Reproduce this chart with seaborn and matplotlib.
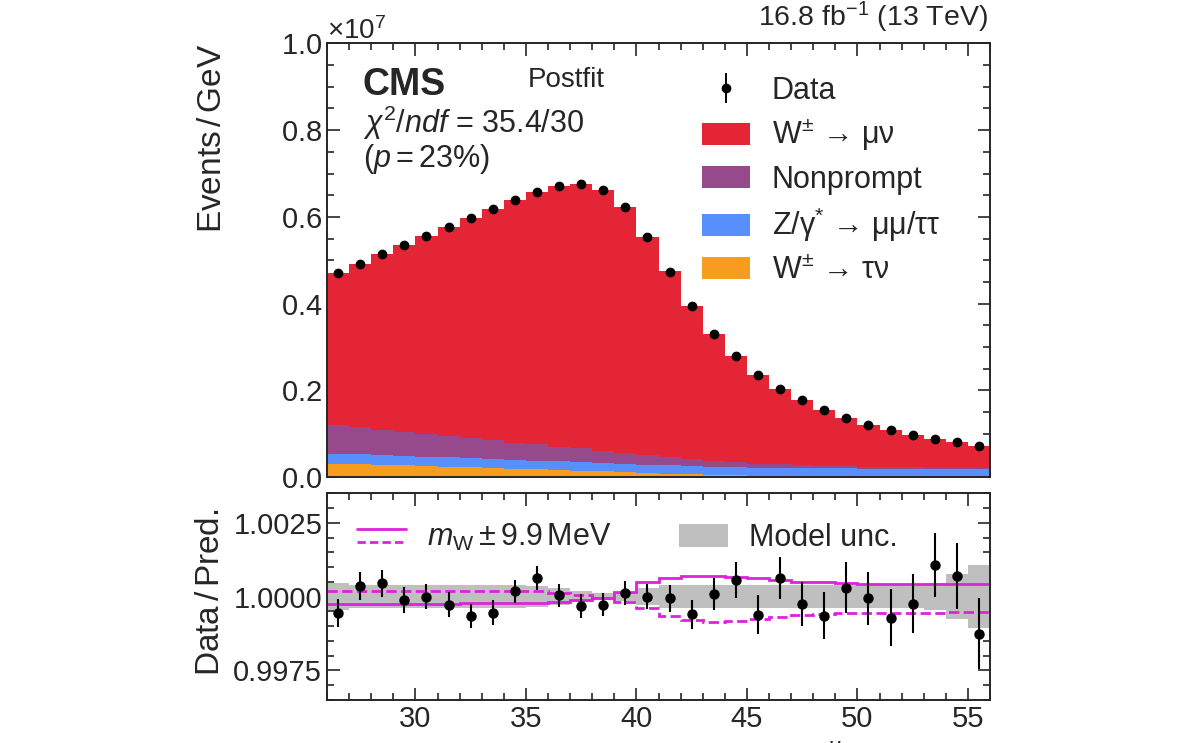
import numpy as np
import pandas as pd
import matplotlib
matplotlib.use("Agg")
import matplotlib.pyplot as plt
import seaborn as sns
from matplotlib.lines import Line2D
from matplotlib.patches import Patch
from matplotlib.legend_handler import HandlerBase
from matplotlib.ticker import MultipleLocator, ScalarFormatter, FormatStrFormatter

# muon pT binning (GeV)
bin_edges = list(range(26, 57))
bin_centers = np.array(bin_edges[:-1]) + 0.5

# observed events per GeV, in units of 1e7
data_vals = [0.470, 0.492, 0.514, 0.534, 0.556, 0.577, 0.597, 0.618, 0.639, 0.658,
             0.672, 0.676, 0.662, 0.623, 0.553, 0.474, 0.394, 0.331, 0.279, 0.235,
             0.204, 0.177, 0.154, 0.136, 0.120, 0.109, 0.097, 0.087, 0.080, 0.072]

# background contributions (units of 1e7)
wtaunu_vals = [0.031, 0.030, 0.028, 0.027, 0.025, 0.024, 0.022, 0.021, 0.019, 0.018,
               0.016, 0.015, 0.013, 0.011, 0.009, 0.008, 0.006, 0.005, 0.004, 0.003,
               0.003, 0.002, 0.002, 0.002, 0.001, 0.001, 0.001, 0.001, 0.001, 0.001]
zgamma_vals = [0.023, 0.023, 0.022, 0.022, 0.022, 0.021, 0.021, 0.021, 0.020, 0.020,
               0.020, 0.020, 0.019, 0.019, 0.019, 0.019, 0.019, 0.019, 0.019, 0.018,
               0.018, 0.018, 0.018, 0.018, 0.018, 0.018, 0.018, 0.017, 0.017, 0.017]
nonprompt_vals = [0.066, 0.062, 0.058, 0.055, 0.052, 0.049, 0.046, 0.043, 0.040, 0.037,
                  0.034, 0.031, 0.029, 0.026, 0.023, 0.020, 0.017, 0.014, 0.012, 0.010,
                  0.008, 0.007, 0.006, 0.005, 0.004, 0.004, 0.003, 0.003, 0.003, 0.002]

# data / prediction and its stat. uncertainty
ratio_vals = [0.99944, 1.00036, 1.00045, 0.99988, 1.00000, 0.99973, 0.99935, 0.99946, 1.00018, 1.00063,
              1.00004, 0.99968, 0.99973, 1.00012, 1.00000, 0.99994, 0.99940, 1.00008, 1.00057, 0.99938,
              1.00063, 0.99976, 0.99935, 1.00030, 0.99994, 0.99929, 0.99976, 1.00107, 1.00071, 0.99875]
ratio_err = [0.00047, 0.00046, 0.00045, 0.00044, 0.00043, 0.00042, 0.00041, 0.00041, 0.00040, 0.00040,
             0.00040, 0.00040, 0.00040, 0.00041, 0.00043, 0.00046, 0.00050, 0.00055, 0.00060, 0.00066,
             0.00070, 0.00075, 0.00080, 0.00086, 0.00090, 0.00096, 0.00100, 0.00107, 0.00112, 0.00120]

# model uncertainty (half width) and m_W +/- 9.9 MeV variations, relative to 1
model_unc = [0.00045, 0.00040, 0.00040, 0.00040, 0.00040, 0.00040, 0.00040, 0.00040, 0.00038, 0.00035,
             0.00028, 0.00018, 0.00012, 0.00015, 0.00030, 0.00040, 0.00040, 0.00040, 0.00040, 0.00040,
             0.00040, 0.00040, 0.00040, 0.00040, 0.00040, 0.00040, 0.00040, 0.00045, 0.00077, 0.00106]
mw_up = [-0.00024, -0.00024, -0.00024, -0.00024, -0.00024, -0.00024, -0.00023, -0.00023, -0.00023, -0.00022,
         -0.00017, -0.00010, -0.00003, 0.00016, 0.00050, 0.00062, 0.00070, 0.00071, 0.00067, 0.00062,
         0.00057, 0.00051, 0.00048, 0.00045, 0.00044, 0.00044, 0.00044, 0.00044, 0.00044, 0.00044]
mw_down = [0.00020, 0.00020, 0.00020, 0.00020, 0.00020, 0.00020, 0.00020, 0.00020, 0.00020, 0.00019,
           0.00013, 0.00004, -0.00004, -0.00018, -0.00040, -0.00065, -0.00080, -0.00085, -0.00082, -0.00076,
           -0.00069, -0.00063, -0.00058, -0.00055, -0.00054, -0.00054, -0.00054, -0.00054, -0.00053, -0.00052]

SCALE = 1e7
process_labels = ["W$^{\\pm}$ → μν", "Nonprompt", "Z/γ$^{*}$ → μμ/ττ", "W$^{\\pm}$ → τν"]
process_colors = ["#e42536", "#964a8b", "#5790fc", "#f89c20"]
MAGENTA = "#dd22dd"
UNC_GRAY = "#bfbfbf"

sns.set_style("ticks")
plt.rcParams["font.family"] = ["Liberation Sans", "DejaVu Sans"]
plt.rcParams["mathtext.fontset"] = "custom"
plt.rcParams["mathtext.rm"] = "Liberation Sans"
plt.rcParams["mathtext.it"] = "Liberation Sans:italic"
plt.rcParams["mathtext.bf"] = "Liberation Sans:bold"
plt.rcParams["axes.linewidth"] = 1.4

data_arr = np.array(data_vals)
ratio_arr = np.array(ratio_vals)
pred_total = data_arr / ratio_arr
bkg_sum = np.array(wtaunu_vals) + np.array(zgamma_vals) + np.array(nonprompt_vals)
wmunu_vals = pred_total - bkg_sum

stack_df = pd.DataFrame({
    "pt": np.tile(bin_centers, 4),
    "events": np.concatenate([wmunu_vals, nonprompt_vals, zgamma_vals, wtaunu_vals]) * SCALE,
    "process": np.repeat(process_labels, len(bin_centers)),
})


class DoubleLineHandler(HandlerBase):
    # solid line above a dashed one, like the m_W variation entry
    def create_artists(self, legend, orig_handle, xdescent, ydescent,
                       width, height, fontsize, trans):
        x = [-xdescent, width - xdescent]
        solid = Line2D(x, [height * 0.8 - ydescent] * 2, color=MAGENTA, lw=2, transform=trans)
        dashed = Line2D(x, [height * 0.2 - ydescent] * 2, color=MAGENTA, lw=2, ls="--",
                        dashes=(3, 1.5), transform=trans)
        return [solid, dashed]


fig = plt.figure(figsize=(12, 7.43), dpi=100)
ax = fig.add_axes([0.2725, 0.358, 0.5525, 0.5835])
rax = fig.add_axes([0.2725, 0.058, 0.5525, 0.278])

# stacked prediction
sns.histplot(data=stack_df, x="pt", weights="events", hue="process", hue_order=process_labels,
             palette=process_colors, bins=bin_edges, multiple="stack", element="step",
             fill=True, alpha=1, linewidth=0, legend=False, ax=ax)

data_eb = ax.errorbar(bin_centers, data_arr * SCALE, yerr=data_arr * SCALE * np.array(ratio_err),
                      fmt="o", color="black", ms=6, elinewidth=1.4, capsize=0, zorder=5)

ax.set_xlim(26, 56)
ax.set_ylim(0, 1.0e7)
ax.set_xlabel("")
ax.set_ylabel("Events$\\,$/$\\,$GeV", fontsize=24, loc="top")
ax.yaxis.set_label_coords(-0.15, 1.0)
fmt = ScalarFormatter(useMathText=True)
fmt.set_powerlimits((0, 0))
ax.yaxis.set_major_formatter(fmt)
ax.yaxis.get_offset_text().set_fontsize(20)
ax.yaxis.set_major_locator(MultipleLocator(0.2e7))
ax.yaxis.set_minor_locator(MultipleLocator(0.05e7))

legend_handles = [data_eb] + [Patch(facecolor=c, edgecolor="none") for c in process_colors]
ax.legend(legend_handles, ["Data"] + process_labels, loc="upper left",
          bbox_to_anchor=(0.565, 0.925), frameon=False, fontsize=22,
          handlelength=1.6, handleheight=0.75, handletextpad=0.7,
          labelspacing=0.37, borderpad=0, borderaxespad=0)

ax.text(0.054, 0.881, "CMS", transform=ax.transAxes, fontsize=27, fontweight="bold", va="baseline")
ax.text(0.303, 0.900, "Postfit", transform=ax.transAxes, fontsize=20, va="baseline")
ax.text(0.054, 0.794, "$\\chi^{2}/ndf$ = 35.4/30", transform=ax.transAxes, fontsize=22, va="baseline")
ax.text(0.054, 0.716, "($p = 23\\%$)", transform=ax.transAxes, fontsize=22, va="baseline")
fig.text(0.823, 0.965, "16.8 fb$^{-1}$ (13 TeV)", fontsize=20.5, ha="right", va="baseline")

# ratio panel
rax.stairs(1 + np.array(model_unc), bin_edges, baseline=1 - np.array(model_unc),
           fill=True, color=UNC_GRAY, lw=0)
rax.stairs(1 + np.array(mw_up), bin_edges, baseline=None, color=MAGENTA, lw=2)
rax.stairs(1 + np.array(mw_down), bin_edges, baseline=None, color=MAGENTA, lw=2, ls="--")
rax.errorbar(bin_centers, ratio_arr, yerr=ratio_err, fmt="o", color="black",
             ms=6.5, elinewidth=1.5, capsize=0, zorder=5)

rax.set_xlim(26, 56)
rax.set_ylim(0.9965, 1.0035)
rax.yaxis.set_major_locator(MultipleLocator(0.0025))
rax.yaxis.set_minor_locator(MultipleLocator(0.0005))
rax.yaxis.set_major_formatter(FormatStrFormatter("%.4f"))
rax.set_ylabel("Data$\\,$/$\\,$Pred.", fontsize=24)
rax.yaxis.set_label_coords(-0.152, 0.52)
# axis title sits mostly below the canvas edge, as in the reference
rax.set_xlabel("$p_{T}^{\\mu}$ (GeV)", fontsize=24, loc="right")
rax.xaxis.set_label_coords(0.925, -0.195)

mw_handle = Line2D([], [], color=MAGENTA)
unc_handle = Patch(facecolor=UNC_GRAY, edgecolor="none")
rax.legend([mw_handle, unc_handle], ["$m_{\\mathrm{W}} \\pm 9.9\\,\\mathrm{MeV}$", "Model unc."],
           handler_map={mw_handle: DoubleLineHandler()}, ncol=2, loc="upper left",
           bbox_to_anchor=(0.045, 0.86), frameon=False, fontsize=22,
           handlelength=1.6, handleheight=0.75, handletextpad=0.7,
           columnspacing=2.2, borderpad=0, borderaxespad=0)

for a in (ax, rax):
    a.xaxis.set_major_locator(MultipleLocator(5))
    a.xaxis.set_minor_locator(MultipleLocator(1))
    a.tick_params(which="both", direction="in", top=True, right=True, labelsize=21, width=1.2)
    a.tick_params(which="major", length=9)
    a.tick_params(which="minor", length=5)
ax.tick_params(labelbottom=False)

fig.savefig("out.png", dpi=100)
